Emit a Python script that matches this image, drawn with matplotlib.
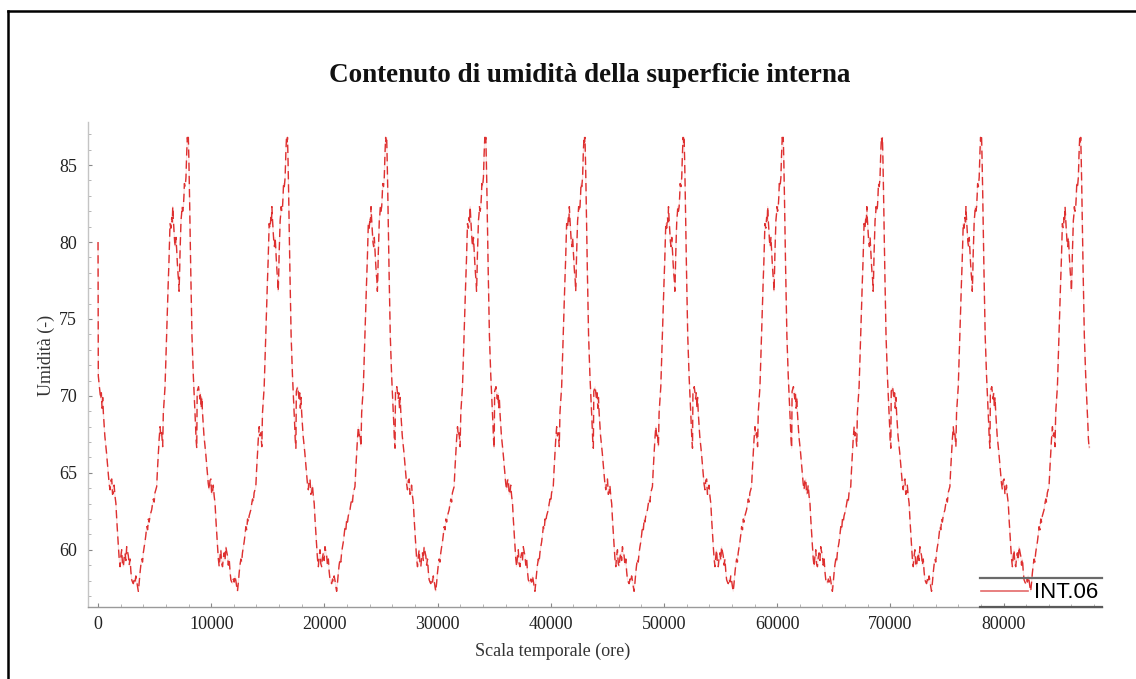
import numpy as np
import matplotlib
matplotlib.use("Agg")
import matplotlib.pyplot as plt
from matplotlib.lines import Line2D
from matplotlib.ticker import MultipleLocator

# ---- data ----
title = "Contenuto di umidità della superficie interna"
xlabel = "Scala temporale (ore)"
ylabel = "Umidità (-)"
series_name = "INT.06"
n_years = 10
hours_per_year = 8760

# one yearly cycle (hour within year, moisture value) - repeated every year
year_hours = [0, 118, 236, 294, 353, 412, 471, 530, 600, 680, 750, 830, 900, 980,
              1060, 1130, 1210, 1280, 1350, 1420, 1500, 1580, 1650, 1730, 1800,
              1870, 1945, 2020, 2090, 2160, 2240, 2310, 2385, 2460, 2530, 2600,
              2680, 2750, 2830, 2900, 2975, 3050, 3120, 3200, 3270, 3340, 3415,
              3490, 3560, 3640, 3710, 3780, 3860, 3930, 4000, 4080, 4150, 4230,
              4300, 4380, 4450, 4520, 4590, 4670, 4740, 4820, 4890, 4960, 5030,
              5100, 5180, 5250, 5330, 5400, 5480, 5550, 5620, 5710, 5770, 5850,
              5920, 6010, 6125, 6200, 6270, 6360, 6440, 6510, 6560, 6600, 6650,
              6710, 6770, 6830, 6890, 6950, 7010, 7070, 7120, 7160, 7200, 7240,
              7290, 7330, 7380, 7420, 7480, 7540, 7590, 7630, 7700, 7770, 7830,
              7890, 7940, 7980, 8030, 8070, 8130, 8190, 8250, 8300, 8360, 8420,
              8500, 8570, 8620, 8660, 8720]
year_values = [70.3, 70.6, 69.8, 70.2, 69.2, 69.9, 68.9, 68.2, 67.4, 66.8, 66.3,
               65.6, 65.0, 64.3, 63.9, 64.5, 64.6, 63.6, 63.7, 64.2, 63.5, 63.0,
               62.0, 61.0, 60.2, 59.4, 58.9, 59.6, 60.0, 59.1, 58.9, 59.5, 59.8,
               59.3, 60.2, 59.9, 59.6, 59.0, 59.4, 58.6, 58.05, 57.9, 57.8, 58.1,
               57.9, 58.3, 58.0, 57.6, 57.3, 57.9, 58.5, 59.0, 59.4, 59.2, 59.8,
               60.2, 60.5, 61.0, 61.5, 61.3, 62.0, 61.8, 62.2, 62.4, 62.6, 63.0,
               63.3, 63.1, 63.7, 63.9, 64.1, 65.2, 66.3, 67.2, 68.0, 67.4, 67.6,
               66.7, 68.9, 69.8, 70.6, 72.8, 75.8, 77.3, 78.8, 81.2, 80.9, 81.6,
               81.3, 82.3, 81.5, 80.7, 80.0, 79.7, 80.3, 79.4, 78.6, 77.9, 77.5,
               76.8, 77.8, 79.2, 80.5, 81.4, 81.8, 82.3, 82.0, 82.3, 83.0, 83.8,
               83.6, 84.2, 85.7, 86.8, 86.5, 86.8, 85.2, 83.6, 80.8, 78.2, 75.9,
               73.9, 72.5, 71.3, 70.0, 68.9, 68.0, 67.2, 66.6]
# initial transient at the very start of the simulation
start_hours = [0, 25]
start_values = [80.0, 71.3]
end_hour = 87600
end_value = 66.7

# assemble the full series
t_list = list(start_hours)
v_list = list(start_values)
for y in range(n_years):
    for h, v in zip(year_hours, year_values):
        if y == 0 and h == 0:
            continue
        t_list.append(y * hours_per_year + h)
        v_list.append(v)
t_list.append(end_hour)
v_list.append(end_value)
t = np.array(t_list)
v = np.array(v_list)

# ---- figure ----
W, H = 1136, 679
fig = plt.figure(figsize=(W / 100, H / 100), dpi=100)
ax = fig.add_axes([88.3 / W, 1 - 606.7 / H, (1102 - 88.3) / W, (606.7 - 122) / H])

red = "#de3030"
ax.plot(t, v, color=red, lw=0.8, alpha=0.15, solid_capstyle="butt")
ax.plot(t, v, color=red, lw=1.0, linestyle=(0, (6, 3.5)), label=series_name)

ax.set_xlim(-860, 88700)
ax.set_ylim(56.3, 87.8)

serif = ["Liberation Serif", "DejaVu Serif"]
ax.set_xticks([0, 10000, 20000, 30000, 40000, 50000, 60000, 70000, 80000])
ax.set_yticks([60, 65, 70, 75, 80, 85])
ax.xaxis.set_minor_locator(MultipleLocator(2000))
ax.yaxis.set_minor_locator(MultipleLocator(1))
ax.tick_params(axis="both", which="major", direction="in", length=3, width=0.8,
               color="#888888", labelsize=13, labelcolor="#222222")
ax.tick_params(axis="both", which="minor", direction="in", length=2, width=0.6,
               color="#aaaaaa")
ax.tick_params(axis="x", pad=7)
ax.tick_params(axis="y", pad=8)
for lab in ax.get_xticklabels() + ax.get_yticklabels():
    lab.set_family(serif)

for s in ["top", "right"]:
    ax.spines[s].set_visible(False)
ax.spines["left"].set_color("#c4c4c4")
ax.spines["bottom"].set_color("#9a9a9a")
ax.spines["left"].set_linewidth(1.0)
ax.spines["bottom"].set_linewidth(1.0)

fig.text(590 / W, 1 - 75 / H, title, ha="center", va="center", fontsize=19.5,
         fontweight="bold", family=serif, color="#111111")
fig.text(553 / W, 1 - 651 / H, xlabel, ha="center", va="center", fontsize=13,
         family=serif, color="#333333")
fig.text(46 / W, 1 - 355 / H, ylabel, ha="center", va="center", fontsize=13,
         family=serif, color="#333333", rotation=90)

# legend
fig.legend(handles=[Line2D([], [], color="#e46a6a", lw=1.2)], labels=[series_name],
           loc="center left", bbox_to_anchor=(981 / W, 1 - 593 / H),
           frameon=False, borderpad=0, borderaxespad=0, handlelength=2.1,
           handletextpad=0.3, prop={"family": ["Liberation Sans", "DejaVu Sans"], "size": 16})
fig.add_artist(Line2D([980 / W, 1102 / W], [1 - 578 / H, 1 - 578 / H],
                      transform=fig.transFigure, color="#6a6a6a", lw=1.6))
fig.add_artist(Line2D([980 / W, 1102 / W], [1 - 607 / H, 1 - 607 / H],
                      transform=fig.transFigure, color="#5a5a5a", lw=1.6))

# outer frame (left and top edges visible)
fig.add_artist(Line2D([8 / W, 8 / W], [0, 1 - 11 / H], transform=fig.transFigure,
                      color="black", lw=1.8))
fig.add_artist(Line2D([8 / W, 1], [1 - 11 / H, 1 - 11 / H], transform=fig.transFigure,
                      color="black", lw=1.8))

fig.savefig("out.png", dpi=100)
